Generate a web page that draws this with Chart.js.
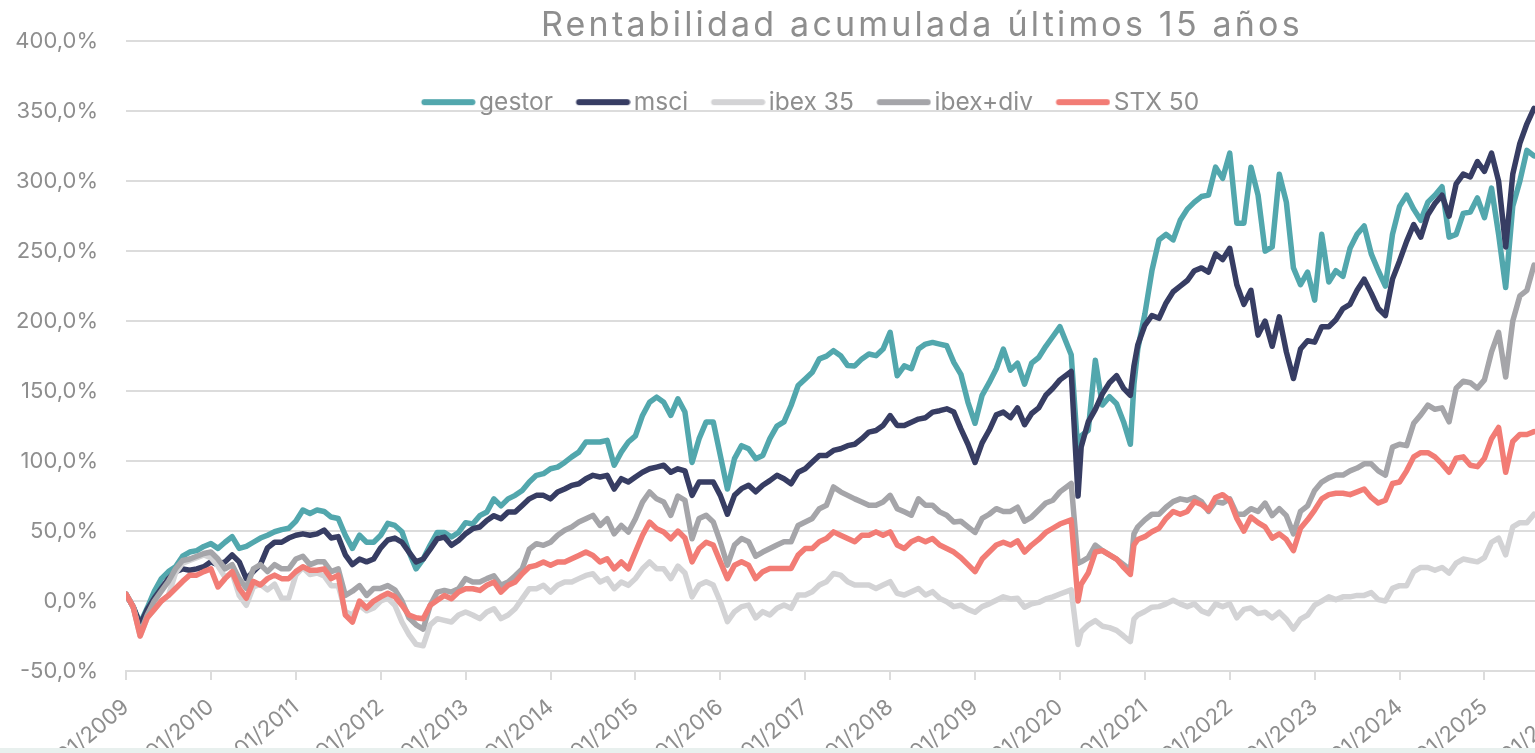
<!DOCTYPE html>
<html lang="es">
<head>
<meta charset="utf-8">
<title>Rentabilidad acumulada últimos 15 años</title>
<script src="https://cdn.jsdelivr.net/npm/chart.js@4.4.1/dist/chart.umd.min.js"></script>
<style>
    html, body { margin: 0; padding: 0; background: #fff; overflow: hidden; width: 1535px; height: 753px; }
    #wrap { position: absolute; left: 0; top: 0; width: 1622px; height: 800px; }
    #franja { position: absolute; left: 0; top: 748px; width: 1535px; height: 5px; background: #e8f0ee; }
</style>
</head>
<body>
<div id="wrap"><canvas id="rentabilidad" width="1622" height="800"></canvas></div>
<div id="franja"></div>
<script>
// Rentabilidad acumulada (%), un punto por mes
// (más algunos días sueltos en 2020: caída covid y noviembre)
const titulo = 'Rentabilidad acumulada últimos 15 años';
const series = ['gestor', 'msci', 'ibex 35', 'ibex+div', 'STX 50'];

const fechas = [];
for (let y = 2009; y <= 2025; y++) {
    for (let mo = 1; mo <= 12; mo++) {
        if (y === 2025 && mo > 8) break;
        fechas.push(y + '-' + String(mo).padStart(2, '0') + '-01');
    }
}
fechas[133] = '2020-02-19';
fechas[134] = '2020-03-18';
fechas[142] = '2020-11-15';
fechas.splice(142, 0, '2020-10-30');

const gestor = [
    5, -4, -16, -5, 7, 16, 21, 24.5, 32, 35, 36, 39,
    41, 37.6, 42, 46, 37.6, 39, 42, 45, 47, 49.5, 51, 52,
    57, 65, 62.6, 65, 64, 60, 59, 47, 37.6, 47, 42, 42,
    47, 55.5, 54, 49.5, 35, 23, 30, 40, 49, 49, 45.7, 49,
    56, 55, 61, 63.6, 73, 68, 73, 75.5, 79, 85, 89.8, 91,
    94.5, 95.7, 99, 103, 106.4, 113.6, 113.6, 113.6, 114.8, 97, 106.4, 113.6,
    118, 132.6, 142, 145.7, 142, 132.6, 144.5, 135, 99, 116, 128, 128,
    104, 80, 101.7, 111, 108.8, 101.7, 104, 116, 125, 128, 139.7, 154,
    158.7, 163.4, 173, 175, 178.9, 175.3, 168.2, 168, 173, 176.5, 175.3, 180,
    192, 161, 168, 166, 180, 183.6, 184.8, 183.6, 182.4, 170.5, 162, 142,
    127, 147, 156, 166, 180, 165, 170, 155, 170, 174, 182, 189,
    196, 176, 105, 118, 122, 172, 140, 146, 141, 128, 112, 155, 180,
    205, 236, 258, 262, 258, 272, 280, 285, 289, 290, 310, 302,
    320, 270, 270, 310, 290, 250, 253, 305, 285, 238, 226, 235,
    215, 262, 228, 236, 232, 252, 262, 268, 248, 236, 225, 262,
    282, 290, 280, 272, 285, 290, 296, 260, 262, 277, 278, 288,
    274, 295, 262, 224, 282, 300, 322, 318
];
const msci = [
    5, -4, -17, -6, 2, 9, 16, 21, 23, 22, 23, 24.5,
    28, 26, 28, 33, 28, 16, 21, 26, 38, 42, 42, 45,
    47, 48, 47, 48, 50.7, 45, 46, 33, 26, 30, 28, 30,
    38, 43.6, 45, 42, 35, 28, 30, 37, 44.5, 45.7, 39.8, 43.3,
    48, 51.7, 52.9, 57.6, 61, 58.8, 63.6, 63.6, 68.3, 73, 75.5, 75.5,
    73, 77.9, 80, 82.6, 83.8, 87.4, 89.8, 88.6, 89.8, 80, 87.4, 85,
    88.6, 92, 94.5, 95.7, 97, 92, 94.5, 93, 75.5, 85, 85, 85,
    75.5, 62, 75.5, 80.3, 82.7, 78, 82.7, 86, 89.8, 87.4, 83.8, 92,
    94.5, 99.3, 104, 104, 107.6, 108.8, 111, 112, 116, 120.7, 121.8, 125.4,
    132.5, 125.4, 125.4, 127.8, 130, 131, 135, 136, 137.3, 135, 123, 112,
    99, 113, 122, 133, 135, 131, 138, 126, 134, 138, 147, 152,
    158, 164, 75, 110, 128, 137, 148, 156, 161, 152, 147, 168, 183,
    197, 204, 202, 213, 221, 225, 229, 236, 238, 235, 248, 244,
    252, 226, 212, 222, 190, 200, 182, 203, 178, 159, 180, 186,
    185, 196, 196, 201, 209, 212, 222, 230, 220, 209, 204, 230,
    243, 257, 269, 260, 276, 284, 290, 275, 298, 305, 303, 314,
    307, 320, 300, 253, 305, 327, 341, 352
];
const ibex35 = [
    5, -4, -25, -12, -6, 0, 4, 20, 27, 29, 31, 33,
    31, 25, 17, 20, 4, -3, 10, 12, 8, 12, 2, 2,
    18.5, 24, 19, 20, 18, 11, 11, -7.6, -10, -3, -7, -5,
    0, 2, -3, -15, -24, -31, -32, -17, -12.6, -13.8, -15, -10,
    -7.9, -10, -12.6, -7.9, -5.5, -12.6, -10, -5.5, 1.7, 8.8, 8.8, 11.2,
    6.4, 11.2, 13.6, 13.6, 16, 18.3, 19.5, 13.6, 16, 8.8, 13.6, 11.2,
    16, 23, 27.9, 23, 23, 16, 25, 20, 3, 11.4, 13.8, 11.4,
    -0.5, -14.7, -7.6, -4, -2.9, -12, -7.6, -10, -5.2, -2.9, -5.2, 4.3,
    4.3, 6.7, 11.4, 13.8, 19.7, 18.5, 13.8, 11.4, 11.4, 11.4, 9, 11.4,
    13.8, 5.5, 4.3, 6.7, 9, 4.3, 6.7, 1.9, -0.5, -4, -3, -6,
    -8, -4, -2, 0.5, 3, 1.5, 2, -4.4, -2, -1, 1.5, 3,
    5, 8, -31, -22, -17, -14, -18, -19, -21, -25, -29, -13, -10,
    -7.5, -4.4, -4, -2, 0.5, -2, -4, -2, -7, -9, -2, -4,
    -2, -12, -6, -5, -9, -8, -12, -8, -13, -20, -13, -10,
    -3, 0, 3, 1, 3, 3, 4, 4, 6, 1, 0, 9,
    11, 11, 21, 24, 24, 22, 24, 20, 27, 30, 29, 28,
    31, 42, 45, 33, 53, 56, 56, 62
];
const ibexDiv = [
    5, -4, -23, -10, 0, 7, 14, 23, 29, 30, 32, 34,
    35, 30, 23, 26, 16, 9, 23, 26, 21, 26, 23, 23,
    30, 32, 26, 28, 28, 21, 23, 4, 7, 11, 4, 9,
    9, 11, 8, 0, -12, -17, -20, -3, 6.4, 7.6, 6.4, 8.8,
    16, 13.6, 13.6, 16, 18, 11.2, 13.6, 18, 23, 37, 41, 39.8,
    42, 47, 50.5, 52.9, 56.4, 58.8, 61.2, 54, 58.8, 48, 54, 49.3,
    58.8, 70.7, 77.9, 73, 70.7, 61.2, 75, 72, 44.5, 59, 61.3, 56.5,
    42.3, 25.6, 40, 44.6, 42.3, 32, 35, 37.5, 40, 42.3, 42.3, 54,
    56.5, 59, 66, 68.4, 81.5, 78, 75.5, 73, 70.8, 68.4, 68.4, 70.8,
    75.5, 66, 63.7, 61.3, 73, 68.4, 68.4, 63.7, 61.3, 56.5, 57, 53,
    49, 59, 62, 66, 64, 64, 67, 57, 60, 65, 70, 72,
    78, 84, 27, 28, 31, 40, 36, 33, 30, 26, 22, 48, 53,
    58, 62, 62, 67, 71, 73, 72, 74, 71, 64, 71, 70,
    73, 62, 62, 66, 64, 70, 61, 66, 61, 48, 64, 68,
    79, 85, 88, 90, 90, 93, 95, 98, 98, 93, 90, 110,
    112, 111, 127, 133, 140, 137, 138, 128, 152, 157, 156, 152,
    158, 178, 192, 160, 200, 218, 222, 240
];
const stx50 = [
    5, -4, -25, -12, -6, 0, 4, 9, 14, 18.5, 18.5, 21,
    23, 10, 16, 21, 9, 2, 14, 11.4, 16, 18.5, 16, 16,
    21, 24.5, 22, 22, 23, 16, 18.5, -10, -15, 0, -5, 0,
    3, 5.5, 3, -3, -10, -12, -12.6, -3, 0.5, 4, 1.7, 6.4,
    8.8, 8.8, 7.6, 11.2, 13.6, 6.4, 11.2, 13.6, 19.5, 24.3, 25.5, 27.9,
    25.5, 27.9, 27.9, 30.2, 32.6, 35, 32.6, 27.9, 30.2, 23, 27.9, 23,
    35, 47, 56.4, 51.7, 49.3, 44.5, 50, 45, 28, 37.5, 42, 40,
    28, 16, 25.6, 28, 25.6, 16, 21, 23.3, 23.3, 23.3, 23.3, 32.8,
    37.5, 37.5, 42.3, 44.6, 49.4, 47, 44.6, 42.3, 47, 47, 49.4, 47,
    49.4, 40, 37.5, 42.3, 44.6, 42.3, 44.6, 40, 37.5, 35, 31, 26,
    21, 30, 35, 40, 42, 40, 43, 35, 40, 44, 49, 52,
    55, 58, 0, 12, 20, 35, 36, 33, 30, 24, 19, 40, 44,
    46, 49.5, 52, 59, 64, 62, 64, 71, 69, 65, 74, 76,
    72, 59, 50, 60, 56, 53, 45, 48, 44, 36, 52, 58,
    65, 73, 76, 77, 77, 76, 78, 80, 74, 70, 72, 84,
    85, 93, 103, 106, 106, 103, 98, 92, 102, 103, 97, 96,
    102, 116, 124, 92, 114, 119, 119, 121
];

const colores = ['#52a7ad', '#373d63', '#d3d3d5', '#a5a5a9', '#f27c75'];
const fuente = 'Inter, "Noto Sans", sans-serif';
const gris = '#8e8e8e';
const rejilla = '#dcdcdc';

// fecha 'aaaa-mm-dd' -> año decimal
function anio(f) {
    const [y, m, d] = f.split('-').map(Number);
    return y + (m - 1) / 12 + (d - 1) / 365;
}

function puntos(valores) {
    return valores.map((v, i) => ({ x: anio(fechas[i]), y: v }));
}

// marca de la leyenda: raya gruesa pegada al texto
function marcaLeyenda(color) {
    const c = document.createElement('canvas');
    c.width = 62;
    c.height = 10;
    const g = c.getContext('2d');
    g.strokeStyle = color;
    g.lineWidth = 6;
    g.lineCap = 'round';
    g.beginPath();
    g.moveTo(10.5, 5);
    g.lineTo(58.5, 5);
    g.stroke();
    return c;
}

const tituloPlugin = {
    id: 'titulo',
    // la leyenda va dentro del área del gráfico: se amplía su caja tras el layout
    afterLayout(chart) {
        const lg = chart.legend;
        lg.bottom = lg.top + 130;
        lg.height = 130;
    },
    afterDraw(chart) {
        const ctx = chart.ctx;
        ctx.save();
        ctx.font = '400 34px ' + fuente;
        ctx.letterSpacing = '3.2px';
        ctx.fillStyle = gris;
        ctx.textAlign = 'left';
        ctx.textBaseline = 'alphabetic';
        ctx.fillText(titulo, 541, 36);
        ctx.restore();
    }
};

const valores = [gestor, msci, ibex35, ibexDiv, stx50];
const datasets = series.map((nombre, i) => ({
    label: nombre,
    data: puntos(valores[i]),
    borderColor: colores[i],
    backgroundColor: colores[i],
    borderWidth: 5.5,
    borderCapStyle: 'round',
    borderJoinStyle: 'round',
    pointRadius: 0,
    pointStyle: marcaLeyenda(colores[i]),
    tension: 0,
    order: series.length - 1 - i   // el último de la leyenda queda encima
}));

new Chart(document.getElementById('rentabilidad'), {
    type: 'line',
    data: { datasets },
    options: {
        responsive: false,
        animation: false,
        devicePixelRatio: 1,
        layout: { padding: 0 },
        plugins: {
            tooltip: { enabled: false },
            legend: {
                position: 'top',
                maxHeight: 38,
                title: { display: true, text: '', padding: { top: 61, bottom: 0 }, font: { size: 1 } },
                labels: {
                    usePointStyle: true,
                    pointStyleWidth: 44,
                    padding: 24.5,
                    color: gris,
                    font: { family: fuente, size: 24.5 },
                    sort: (a, b) => a.datasetIndex - b.datasetIndex
                }
            }
        },
        scales: {
            x: {
                type: 'linear',
                min: 2009,
                max: 2026.62,
                afterFit(scale) { scale.height = 129; },
                border: { display: true, color: rejilla, width: 2 },
                grid: { drawOnChartArea: false, drawTicks: true, tickLength: 9, color: rejilla, lineWidth: 2 },
                ticks: {
                    stepSize: 1,
                    autoSkip: false,
                    minRotation: 40,
                    maxRotation: 40,
                    padding: 14,
                    color: gris,
                    font: { family: fuente, size: 22 },
                    callback: (v) => Math.abs(v - Math.round(v)) < 1e-6 ? '01/' + Math.round(v) : null
                }
            },
            y: {
                min: -50,
                max: 400,
                afterFit(scale) { scale.width = 126; },
                border: { display: false },
                grid: { color: rejilla, lineWidth: 2, drawTicks: false },
                ticks: {
                    stepSize: 50,
                    padding: 28,
                    color: gris,
                    font: { family: fuente, size: 22 },
                    callback: (v) => v.toFixed(1).replace('.', ',') + '%'
                }
            }
        }
    },
    plugins: [tituloPlugin]
});
</script>
</body>
</html>
